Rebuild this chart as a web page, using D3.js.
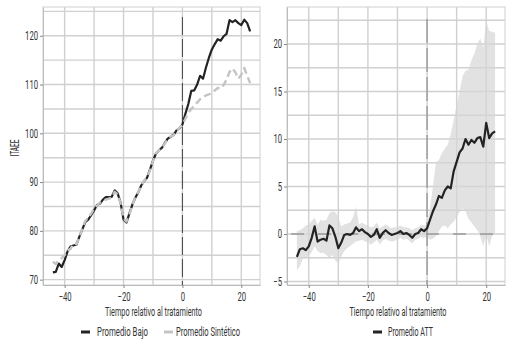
<!DOCTYPE html>
<html><head><meta charset="utf-8">
<script src="https://cdn.jsdelivr.net/npm/d3@7"></script>
<style>
body{margin:0;background:#fff}
text{font-family:Roboto,"Liberation Sans",sans-serif;fill:#333}
</style>
</head><body>
<svg id="c" width="515" height="344"></svg>
<script>
// ---------- data ----------
const periods = [-44,-43,-42,-41,-40,-39,-38,-37,-36,-35,-34,-33,-32,-31,-30,-29,-28,-27,-26,-25,-24,-23,-22,-21,-20,-19,-18,-17,-16,-15,-14,-13,-12,-11,-10,-9,-8,-7,-6,-5,-4,-3,-2,-1,0,1,2,3,4,5,6,7,8,9,10,11,12,13,14,15,16,17,18,19,20,21,22,23];
const bajo = [71.5,71.6,73.3,72.6,74.0,75.8,76.8,77.0,77.2,78.8,80.3,81.8,82.3,83.2,84.2,85.3,85.6,86.4,86.9,86.9,87.0,88.3,87.7,85.8,82.3,81.7,83.6,85.4,86.8,87.9,89.3,90.2,90.9,92.6,94.4,95.8,96.5,97.0,98.0,98.9,99.3,99.7,100.6,101.0,101.8,104.0,106.0,108.7,108.8,110.0,111.8,111.2,113.5,115.5,117.2,118.3,119.3,119.0,119.9,120.4,123.2,122.8,123.2,122.6,122.2,123.3,122.6,120.9];
const sintetico = [73.7,73.2,74.0,74.4,75.0,76.0,76.3,77.4,77.3,78.6,80.5,82.0,82.7,83.5,84.6,85.2,85.8,86.2,86.4,86.6,86.8,88.0,87.5,85.7,82.5,81.9,83.4,85.3,86.9,88.0,89.1,90.3,91.0,92.4,94.3,95.9,96.5,97.1,97.9,98.8,99.4,99.6,100.5,101.1,101.8,103.0,104.2,105.0,105.6,106.3,107.0,107.3,107.8,108.0,108.2,108.8,109.3,109.2,109.9,111.0,112.6,113.3,112.5,111.2,112.0,113.4,111.8,110.3];
const att = [-2.4,-1.6,-1.5,-1.7,-1.3,-0.4,0.8,-0.8,-0.6,-0.5,-0.7,0.9,0.6,-0.3,-1.5,-0.9,-0.1,0.0,-0.1,0.1,0.7,0.3,0.5,0.2,0.0,-0.3,-0.1,0.5,-0.4,0.1,0.4,0.1,-0.1,0.0,0.1,0.3,0.0,0.1,-0.1,-0.4,0.0,0.1,0.5,0.3,0.6,1.5,2.4,3.1,4.0,3.8,4.6,5.0,4.8,6.6,7.6,8.6,9.0,10.0,9.4,9.9,9.6,10.1,10.2,9.2,11.7,10.1,10.6,10.8];
const attUpper = [0.3,0.4,0.6,0.9,1.0,1.4,1.7,1.0,1.5,1.4,1.5,2.2,2.4,2.3,1.8,0.8,1.0,1.1,1.2,1.8,2.9,1.0,1.2,1.0,0.9,0.7,0.8,1.2,0.6,0.8,1.0,0.8,0.6,0.7,0.7,0.9,0.7,0.7,0.6,0.4,0.6,0.7,1.0,0.9,1.0,2.8,5.0,7.5,7.8,8.5,9.0,9.4,10.5,12.0,13.6,15.0,16.6,17.2,17.3,18.3,19.0,20.0,20.6,19.6,22.4,21.4,21.3,21.2];
const attLower = [-3.8,-3.4,-2.6,-2.5,-2.3,-1.9,-1.3,-1.8,-2.0,-2.0,-2.2,-2.6,-2.2,-2.8,-3.1,-2.4,-1.8,-1.5,-1.3,-1.0,-0.8,-0.7,-0.6,-0.8,-0.9,-1.1,-0.9,-0.6,-1.1,-0.7,-0.5,-0.7,-0.8,-0.7,-0.6,-0.4,-0.6,-0.5,-0.7,-1.0,-0.6,-0.5,-0.3,-0.4,-0.3,-0.6,-0.5,-0.2,0.3,0.8,0.9,0.6,1.0,1.3,1.8,2.3,2.7,2.4,1.6,1.2,0.8,0.4,-0.3,-1.3,-0.1,-1.3,-0.2,0.0];
const xTicks = [-40,-20,0,20];
const xGrid = [-40,-30,-20,-10,0,10,20];
const leftYTicks = [70,80,90,100,110,120];
const leftYGrid = [70,75,80,85,90,95,100,105,110,115,120,125];
const rightYTicks = [-5,0,5,10,15,20];
const rightYGrid = [-5,-2.5,0,2.5,5,7.5,10,12.5,15,17.5,20,22.5];
const xTitle = "Tiempo relativo al tratamiento";
const yTitle = "ITAEE";

// ---------- drawing ----------
const svg = d3.select("#c");
const SX = 0.64;
const FS = 12;
const TOP = 7, BOTTOM = 285;

function drawPanel(x0, x1, yDomain, yTicks, yGrid) {
  const x = d3.scaleLinear().domain([-47.35, 26.35]).range([x0, x1]);
  const y = d3.scaleLinear().domain(yDomain).range([BOTTOM, TOP]);
  const g = svg.append("g");
  g.append("rect").attr("x", x0).attr("y", TOP).attr("width", x1 - x0).attr("height", BOTTOM - TOP)
    .attr("fill", "#fff").attr("stroke", "#d0d0d0").attr("stroke-width", 1);
  g.selectAll(".vg").data(xGrid).join("line")
    .attr("x1", d => x(d)).attr("x2", d => x(d)).attr("y1", TOP).attr("y2", BOTTOM)
    .attr("stroke", "#d0d0d0").attr("stroke-width", 1.4);
  g.selectAll(".hg").data(yGrid).join("line")
    .attr("x1", x0).attr("x2", x1).attr("y1", d => y(d)).attr("y2", d => y(d))
    .attr("stroke", "#d0d0d0").attr("stroke-width", 1.4);

  const ax = svg.append("g").attr("transform", `translate(0,${BOTTOM})`)
    .call(d3.axisBottom(x).tickValues(xTicks).tickFormat(d3.format("d")).tickSize(3).tickSizeOuter(0).tickPadding(4));
  ax.select(".domain").attr("stroke", "#bbb");
  ax.selectAll(".tick line").attr("stroke", "#888");
  ax.selectAll("text").attr("font-size", FS).attr("fill", "#333").attr("transform", `scale(${SX},1)`)
    .style("font-family", "Roboto");
  const ay = svg.append("g").attr("transform", `translate(${x0},0)`)
    .call(d3.axisLeft(y).tickValues(yTicks).tickFormat(d3.format("d")).tickSize(3).tickSizeOuter(0).tickPadding(3));
  ay.select(".domain").attr("stroke", "#bbb");
  ay.selectAll(".tick line").attr("stroke", "#888");
  ay.selectAll("text").attr("font-size", FS).attr("fill", "#333").attr("x", -5 / SX)
    .attr("transform", `scale(${SX},1)`).style("font-family", "Roboto");

  svg.append("text").attr("x", (x0 + x1) / 2 + 2).attr("y", 316).attr("text-anchor", "middle")
    .attr("font-size", FS).attr("textLength", 97).attr("lengthAdjust", "spacingAndGlyphs").text(xTitle);
  return {x, y, g};
}

// left panel
const L = drawPanel(43, 260, [68.9, 125.9], leftYTicks, leftYGrid);
L.g.append("line").attr("x1", L.x(0)).attr("x2", L.x(0)).attr("y1", TOP + 10).attr("y2", BOTTOM)
  .attr("stroke", "#444").attr("stroke-width", 1).attr("stroke-dasharray", "18,4");
const lineL = v => d3.line().x((d, i) => L.x(periods[i])).y(d => L.y(d))(v);
L.g.append("path").attr("d", lineL(bajo)).attr("fill", "none").attr("stroke", "#232323")
  .attr("stroke-width", 2.2).attr("stroke-linejoin", "round");
L.g.append("path").attr("d", lineL(sintetico)).attr("fill", "none").attr("stroke", "#c4c4c4")
  .attr("stroke-width", 2.4).attr("stroke-dasharray", "7,4").attr("stroke-linejoin", "round");
svg.append("text").attr("transform", "translate(19,148) rotate(-90)").attr("text-anchor", "middle")
  .attr("font-size", FS).attr("textLength", 17).attr("lengthAdjust", "spacingAndGlyphs").text(yTitle);

// right panel
const R = drawPanel(287, 505, [-5.37, 23.9], rightYTicks, rightYGrid);
const area = d3.area().x((d, i) => R.x(periods[i])).y0((d, i) => R.y(attLower[i])).y1(d => R.y(d));
R.g.append("path").attr("d", area(attUpper)).attr("fill", "#d6d6d6").attr("fill-opacity", 0.7);
R.g.append("line").attr("x1", R.x(0)).attr("x2", R.x(0)).attr("y1", TOP + 12).attr("y2", BOTTOM)
  .attr("stroke", "#999").attr("stroke-width", 1.4).attr("stroke-dasharray", "24,5");
R.g.append("line").attr("x1", 287).attr("x2", 505).attr("y1", R.y(0)).attr("y2", R.y(0))
  .attr("stroke", "#999").attr("stroke-width", 1.4).attr("stroke-dasharray", "13,14").attr("stroke-dashoffset", -4);
R.g.append("path").attr("d", d3.line().x((d, i) => R.x(periods[i])).y(d => R.y(d))(att))
  .attr("fill", "none").attr("stroke", "#232323").attr("stroke-width", 2.2).attr("stroke-linejoin", "round");

// legends
const legendItems = [
  {label: "Promedio Bajo", color: "#232323", kx: 81, tx: 97, w: 51},
  {label: "Promedio Sintético", color: "#c4c4c4", kx: 164, tx: 176, w: 64},
  {label: "Promedio ATT", color: "#232323", kx: 373, tx: 388, w: 45}
];
const lg = svg.append("g");
legendItems.forEach(it => {
  lg.append("line").attr("x1", it.kx).attr("x2", it.kx + 9).attr("y1", 332).attr("y2", 332)
    .attr("stroke", it.color).attr("stroke-width", 3);
  lg.append("text").attr("x", it.tx).attr("y", 336).attr("font-size", FS)
    .attr("textLength", it.w).attr("lengthAdjust", "spacingAndGlyphs").text(it.label);
});
</script>
</body></html>
